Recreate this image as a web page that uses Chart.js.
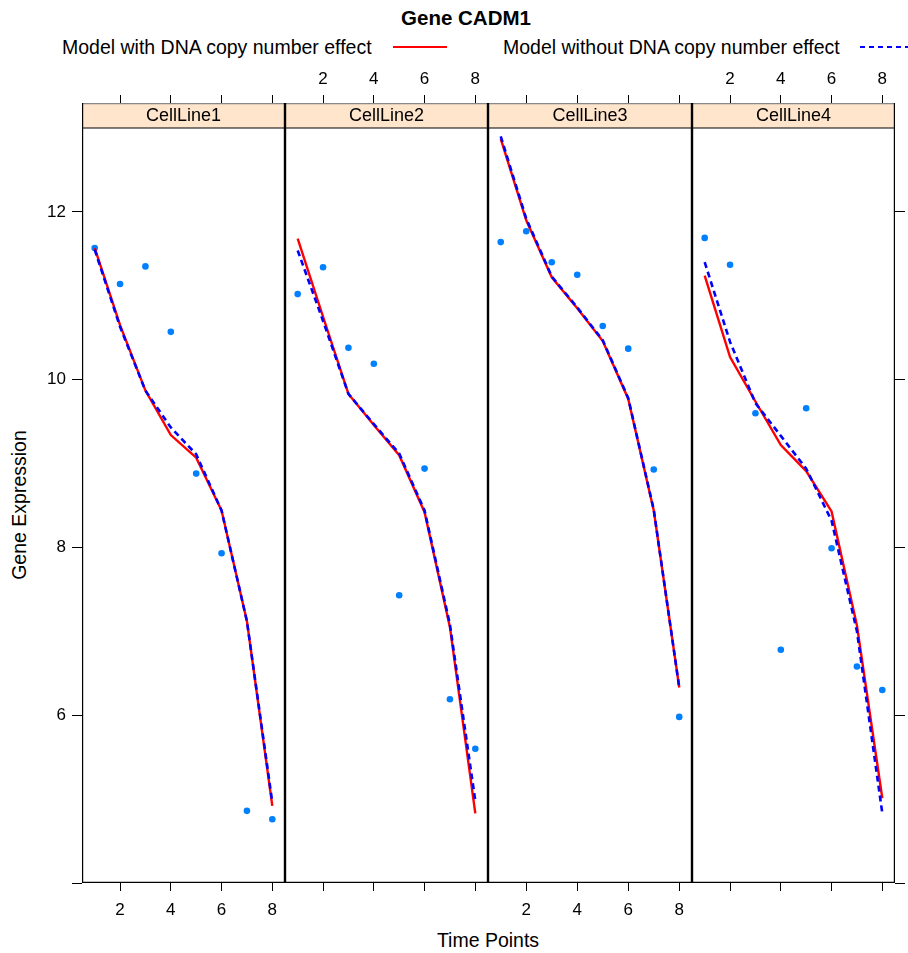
<!DOCTYPE html>
<html>
<head>
<meta charset="utf-8">
<title>Gene CADM1</title>
<script src="https://cdn.jsdelivr.net/npm/chart.js@4.4.1/dist/chart.umd.min.js"></script>
<style>
  body { margin: 0; background: #fff; }
  #page { position: relative; width: 908px; height: 953px; overflow: hidden; font-family: "Liberation Sans", Arial, sans-serif; color: #000; }
  #page canvas { position: absolute; }
  .txt { position: absolute; white-space: nowrap; line-height: 1; }
</style>
</head>
<body>
<div id="page">
  <div class="txt" id="title" style="left:466px; top:8px; transform:translateX(-50%); font-weight:bold; font-size:20.5px;">Gene CADM1</div>
  <div class="txt" style="left:62px; top:38px; font-size:19.5px;">Model with DNA copy number effect</div>
  <svg style="position:absolute; left:393px; top:42px;" width="56" height="10"><line x1="0" y1="5" x2="54" y2="5" stroke="#ff0000" stroke-width="2"/></svg>
  <div class="txt" style="left:503px; top:38px; font-size:19.5px;">Model without DNA copy number effect</div>
  <svg style="position:absolute; left:860px; top:42px;" width="48" height="10"><line x1="0" y1="5" x2="48" y2="5" stroke="#0000ff" stroke-width="2" stroke-dasharray="5,4"/></svg>
  <div class="txt" style="left:20px; top:505px; transform:translate(-50%,-50%) rotate(-90deg); font-size:19.5px;">Gene Expression</div>
  <div class="txt" style="left:488px; top:931px; transform:translateX(-50%); font-size:19.5px;">Time Points</div>
</div>
<script>
// data
const cellLines = ['CellLine1', 'CellLine2', 'CellLine3', 'CellLine4'];
const timePoints = [1, 2, 3, 4, 5, 6, 7, 8];
const xTicks = [2, 4, 6, 8];
const yTicks = [4, 6, 8, 10, 12];

// observed expression, one row per cell line
const observed = [
  [11.57, 11.14, 11.35, 10.57, 8.88, 7.93, 4.86, 4.76],
  [11.02, 11.34, 10.38, 10.19, 7.43, 8.94, 6.19, 5.60],
  [11.64, 11.77, 11.40, 11.25, 10.64, 10.37, 8.93, 5.98],
  [11.69, 11.37, 9.60, 6.78, 9.66, 7.99, 6.58, 6.30]
];
// model with DNA copy number effect (red)
const withCN = [
  [11.57, 10.65, 9.87, 9.34, 9.07, 8.44, 7.12, 4.92],
  [11.68, 10.75, 9.83, 9.46, 9.10, 8.42, 7.05, 4.83],
  [12.87, 11.90, 11.22, 10.85, 10.46, 9.77, 8.44, 6.33],
  [11.24, 10.27, 9.74, 9.22, 8.91, 8.43, 7.07, 5.01]
];
// model without DNA copy number effect (blue dashed)
const withoutCN = [
  [11.55, 10.63, 9.87, 9.43, 9.11, 8.44, 7.12, 4.96],
  [11.54, 10.70, 9.83, 9.47, 9.12, 8.44, 7.08, 4.98],
  [12.90, 11.92, 11.23, 10.86, 10.47, 9.78, 8.45, 6.33],
  [11.40, 10.45, 9.72, 9.33, 8.94, 8.32, 7.00, 4.83]
];

Chart.defaults.font.family = '"Liberation Sans", Arial, sans-serif';
Chart.defaults.font.size = 17;
Chart.defaults.color = '#000';

// panel geometry in page pixels
const panelEdges = [82, 285, 488, 692, 895];
const canvasTop = 60, areaTop = 103, areaBottom = 883, canvasBottom = 930;
const stripBase = 13, yMin = 4, yMax = 13.298;

function pts(vals) {
  return timePoints.map((t, i) => ({ x: t, y: vals[i] }));
}

// strip + panel borders
const panelFrame = {
  id: 'panelFrame',
  beforeDatasetsDraw(chart, args, opts) {
    const { ctx, chartArea: a, scales } = chart;
    const ys = scales.y.getPixelForValue(stripBase);
    ctx.save();
    ctx.fillStyle = '#ffe5cc';
    ctx.fillRect(a.left, a.top, a.right - a.left, ys - a.top);
    ctx.fillStyle = '#000';
    ctx.font = '18px "Liberation Sans", Arial, sans-serif';
    ctx.textAlign = 'center';
    ctx.textBaseline = 'middle';
    ctx.fillText(opts.label, (a.left + a.right) / 2, (a.top + ys) / 2 + 1);
    ctx.restore();
  },
  afterDraw(chart) {
    const { ctx, chartArea: a, scales } = chart;
    const ys = scales.y.getPixelForValue(stripBase);
    ctx.save();
    ctx.lineWidth = 1.2;
    ctx.strokeStyle = '#888';
    ctx.beginPath();
    ctx.moveTo(a.left, a.top + 0.6);
    ctx.lineTo(a.right, a.top + 0.6);
    ctx.stroke();
    ctx.strokeStyle = '#000';
    ctx.beginPath();
    ctx.moveTo(a.left + 0.6, a.top);
    ctx.lineTo(a.left + 0.6, a.bottom - 0.6);
    ctx.lineTo(a.right - 0.6, a.bottom - 0.6);
    ctx.lineTo(a.right - 0.6, a.top);
    ctx.moveTo(a.left, ys);
    ctx.lineTo(a.right, ys);
    ctx.stroke();
    ctx.restore();
  }
};

function tickGrid(len) {
  return { drawOnChartArea: false, drawTicks: true, tickLength: len, color: '#000', lineWidth: 1 };
}

function noPad(s) {
  s.paddingLeft = 0; s.paddingRight = 0; s.paddingTop = 0; s.paddingBottom = 0;
}

cellLines.forEach((name, p) => {
  const leftW = p === 0 ? panelEdges[0] : 0;
  const rightW = p === 3 ? 13 : 0;
  const panelW = panelEdges[p + 1] - panelEdges[p];
  const cv = document.createElement('canvas');
  const w = leftW + panelW + rightW;
  const h = canvasBottom - canvasTop;
  cv.width = w; cv.height = h;
  cv.style.left = (panelEdges[p] - leftW) + 'px';
  cv.style.top = canvasTop + 'px';
  cv.style.width = w + 'px'; cv.style.height = h + 'px';
  document.getElementById('page').appendChild(cv);

  const labelBottom = p % 2 === 0;
  const scales = {
    x: {
      type: 'linear', position: 'bottom', min: 0.5, max: 8.5,
      afterBuildTicks: s => { s.ticks = xTicks.map(v => ({ value: v })); },
      afterFit: s => { s.height = canvasBottom - areaBottom; noPad(s); },
      ticks: { autoSkip: false, maxRotation: 0, padding: 9, callback: v => labelBottom ? String(v) : '' },
      grid: tickGrid(8), border: { display: false }
    },
    x2: {
      type: 'linear', position: 'top', min: 0.5, max: 8.5,
      afterBuildTicks: s => { s.ticks = xTicks.map(v => ({ value: v })); },
      afterFit: s => { s.height = areaTop - canvasTop; noPad(s); },
      ticks: { autoSkip: false, maxRotation: 0, padding: 5, callback: v => labelBottom ? '' : String(v) },
      grid: tickGrid(8), border: { display: false }
    },
    y: {
      type: 'linear', position: 'left', min: yMin, max: yMax, display: p === 0,
      afterBuildTicks: s => { s.ticks = yTicks.map(v => ({ value: v })); },
      afterFit: s => { s.width = leftW; noPad(s); },
      ticks: { autoSkip: false, padding: 6, callback: v => v === 4 ? '' : String(v) },
      grid: tickGrid(10), border: { display: false }
    }
  };
  if (p === 3) {
    scales.y2 = {
      type: 'linear', position: 'right', min: yMin, max: yMax,
      afterBuildTicks: s => { s.ticks = yTicks.map(v => ({ value: v })); },
      afterFit: s => { s.width = rightW; noPad(s); },
      ticks: { autoSkip: false, callback: () => '' },
      grid: tickGrid(10), border: { display: false }
    };
  }

  new Chart(cv, {
    type: 'scatter',
    data: {
      datasets: [
        { label: 'Model without DNA copy number effect', data: pts(withoutCN[p]), showLine: true,
          borderColor: '#0000ff', borderWidth: 2.6, borderDash: [6, 4], pointRadius: 0, order: 1 },
        { label: 'Model with DNA copy number effect', data: pts(withCN[p]), showLine: true,
          borderColor: '#ff0000', borderWidth: 2.4, pointRadius: 0, order: 2 },
        { label: 'Observed', data: pts(observed[p]), showLine: false,
          pointRadius: 3.3, pointBackgroundColor: '#0080ff', pointBorderWidth: 0, order: 3 }
      ]
    },
    options: {
      responsive: false, animation: false,
      layout: { padding: 0, autoPadding: false },
      plugins: { legend: { display: false }, tooltip: { enabled: false }, panelFrame: { label: name } },
      scales
    },
    plugins: [panelFrame]
  });
});
</script>
</body>
</html>
